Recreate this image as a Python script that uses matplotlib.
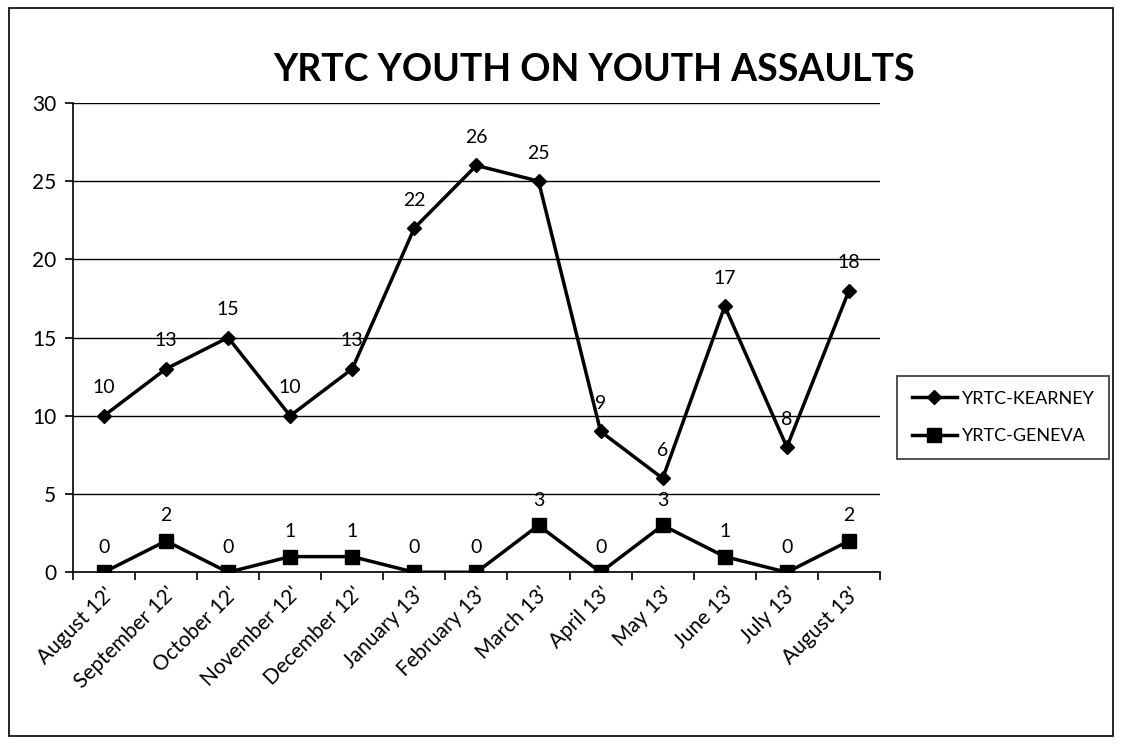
import numpy as np
import matplotlib.pyplot as plt
from matplotlib.patches import Rectangle

plt.rcParams['font.family'] = ['Lato', 'DejaVu Sans']

months = ["August 12'", "September 12'", "October 12'", "November 12'", "December 12'",
          "January 13'", "February 13'", "March 13'", "April 13'", "May 13'",
          "June 13'", "July 13'", "August 13'"]
kearney = [10, 13, 15, 10, 13, 22, 26, 25, 9, 6, 17, 8, 18]
geneva = [0, 2, 0, 1, 1, 0, 0, 3, 0, 3, 1, 0, 2]

fig = plt.figure(figsize=(11.21, 7.51), dpi=100)
ax = fig.add_axes([0.065, 0.238, 0.72, 0.625])

x = np.arange(len(months))
ax.plot(x, kearney, color='black', lw=2.5, marker='D', ms=7, label='YRTC-KEARNEY')
ax.plot(x, geneva, color='black', lw=2.5, marker='s', ms=10, label='YRTC-GENEVA')

for i, v in enumerate(kearney):
    ax.annotate(str(v), (i, v), xytext=(0, 14), textcoords='offset points',
                ha='center', va='bottom', fontsize=14)
for i, v in enumerate(geneva):
    ax.annotate(str(v), (i, v), xytext=(0, 12), textcoords='offset points',
                ha='center', va='bottom', fontsize=14)

ax.set_xlim(-0.5, len(months) - 0.5)
ax.set_ylim(0, 30)
ax.set_yticks(range(0, 31, 5))
ax.yaxis.grid(True, color='black', lw=1)
ax.set_axisbelow(True)
ax.set_xticks(x)
ax.set_xticklabels(months, rotation=45, ha='right', rotation_mode='anchor', fontsize=15)
ax.set_xticks(np.arange(-0.5, len(months), 1), minor=True)
ax.tick_params(axis='x', which='major', length=0, pad=8)
ax.tick_params(axis='x', which='minor', length=6, width=1.2, direction='out')
ax.tick_params(axis='y', length=6, width=1.2, labelsize=15, pad=6)
for s in ['top', 'right']:
    ax.spines[s].set_visible(False)
ax.spines['left'].set_linewidth(1.2)
ax.spines['bottom'].set_linewidth(1.2)

fig.suptitle('YRTC YOUTH ON YOUTH ASSAULTS', x=0.53, y=0.93, fontsize=27, fontweight='bold')

leg = ax.legend(loc='center left', bbox_to_anchor=(1.01, 0.33), frameon=True,
                fancybox=False, edgecolor='black', fontsize=13, handlelength=2.5,
                labelspacing=1.2, borderpad=0.8, handletextpad=0.3)
leg.get_frame().set_linewidth(1.2)

fig.patches.append(Rectangle((0.008, 0.02), 0.985, 0.97, transform=fig.transFigure,
                             fill=False, edgecolor='black', lw=1.2))

fig.savefig('out.png', dpi=100)
